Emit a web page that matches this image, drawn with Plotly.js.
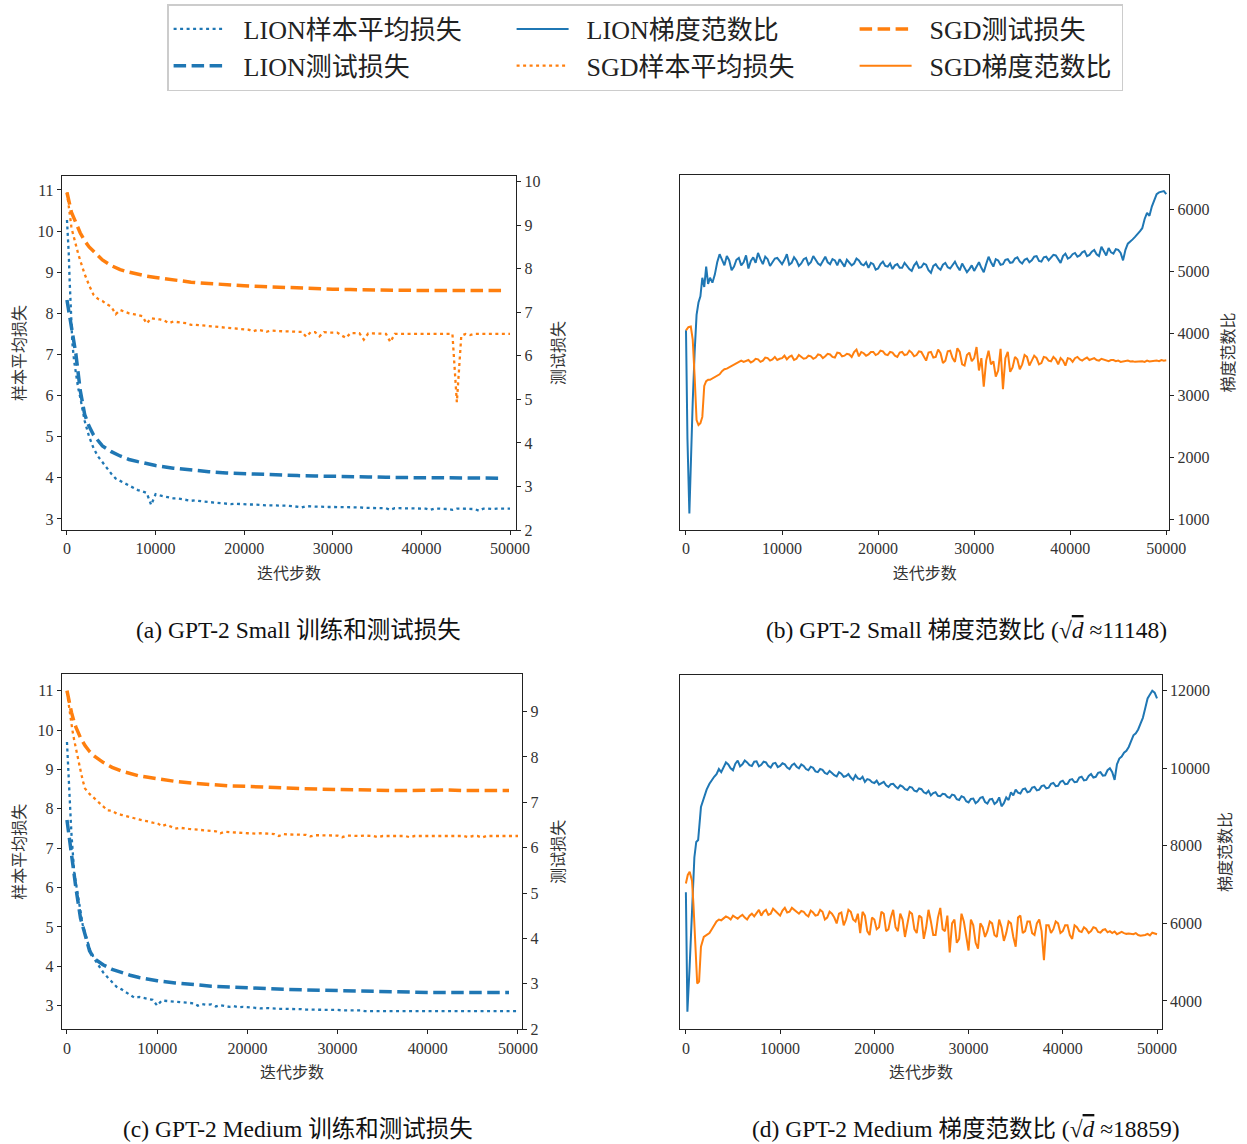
<!DOCTYPE html>
<html>
<head>
<meta charset="utf-8">
<script src="https://cdn.plot.ly/plotly-3.0.1.min.js"></script>
<style>html,body{margin:0;padding:0;background:#fff;}#chart{width:1247px;height:1144px;}</style>
</head>
<body>
<div id="chart"></div>
<script>
// ---------- data ----------
const STEPS_REG = [2500,3000,3500,4000,4500,5000,5500,6000,6500,7000,
7500,8000,8500,9000,9500,10000,10500,11000,11500,12000,
12500,13000,13500,14000,14500,15000,15500,16000,16500,17000,
17500,18000,18500,19000,19500,20000,20500,21000,21500,22000,
22500,23000,23500,24000,24500,25000,25500,26000,26500,27000,
27500,28000,28500,29000,29500,30000,30500,31000,31500,32000,
32500,33000,33500,34000,34500,35000,35500,36000,36500,37000,
37500,38000,38500,39000,39500,40000,40500,41000,41500,42000,
42500,43000,43500,44000,44500,45000,45500,46000,46500,47000,
47500,48000,48500,49000,49500,50000];

const STEPS_250 = [2500,2750,3000,3250,3500,3750,4000,4250,4500,4750,5000,5250,5500,5750,6000,6250,6500,6750,7000,7250,
7500,7750,8000,8250,8500,8750,9000,9250,9500,9750,10000,10250,10500,10750,11000,11250,11500,11750,12000,12250,
12500,12750,13000,13250,13500,13750,14000,14250,14500,14750,15000,15250,15500,15750,16000,16250,16500,16750,17000,17250,
17500,17750,18000,18250,18500,18750,19000,19250,19500,19750,20000,20250,20500,20750,21000,21250,21500,21750,22000,22250,
22500,22750,23000,23250,23500,23750,24000,24250,24500,24750,25000,25250,25500,25750,26000,26250,26500,26750,27000,27250,
27500,27750,28000,28250,28500,28750,29000,29250,29500,29750,30000,30250,30500,30750,31000,31250,31500,31750,32000,32250,
32500,32750,33000,33250,33500,33750,34000,34250,34500,34750,35000,35250,35500,35750,36000,36250,36500,36750,37000,37250,
37500,37750,38000,38250,38500,38750,39000,39250,39500,39750,40000,40250,40500,40750,41000,41250,41500,41750,42000,42250,
42500,42750,43000,43250,43500,43750,44000,44250,44500,44750,45000,45250,45500,45750,46000,46250,46500,46750,47000,47250,
47500,47750,48000,48250,48500,48750,49000,49250,49500,49750,50000];

const SAMPLE_EARLY = [0,100,200,300,400,500,600,800,1000,1250,1500,1750,2000];
const TEST_STEPS = [0,250,500,750,1000,1500,2000,2500,3000,4000,5000,6000,7000,8000,9000,10000,
12000,14000,16000,18000,20000,22000,24000,26000,28000,30000,32000,34000,36000,38000,40000,42000,44000,46000,48000,49000];

// (a) GPT-2 Small losses
const SGD_A_SAMPLE = [10.94,10.75,10.55,10.38,10.22,10.1,10.0,9.82,9.65,9.46,9.28,9.1,8.95,
8.68,8.45,8.35,8.3,8.22,8.16,7.98,8.08,8.04,8.0,
7.98,7.95,7.93,7.75,7.88,7.86,7.85,7.82,7.76,7.8,
7.78,7.77,7.76,7.72,7.72,7.71,7.7,7.69,7.68,7.68,
7.67,7.65,7.64,7.63,7.62,7.62,7.6,7.56,7.6,7.58,
7.55,7.58,7.57,7.57,7.56,7.56,7.55,7.55,7.55,7.43,
7.54,7.54,7.44,7.54,7.53,7.53,7.53,7.46,7.4,7.52,
7.52,7.52,7.36,7.51,7.51,7.51,7.51,7.5,7.3,7.5,
7.5,7.5,7.5,7.5,7.5,7.5,7.5,7.5,7.5,7.5,
7.5,7.5,7.5,5.84,7.45,7.5,7.47,7.5,7.5,7.5,
7.5,7.5,7.5,7.5,7.5,7.5];
const LION_A_SAMPLE = [10.27,9.9,9.45,8.8,8.25,7.75,7.3,6.85,6.55,6.2,5.95,5.65,5.38,
5.0,4.72,4.52,4.38,4.22,4.1,3.98,3.92,3.86,3.8,
3.75,3.7,3.67,3.63,3.34,3.6,3.57,3.55,3.52,3.5,
3.5,3.48,3.47,3.44,3.45,3.43,3.42,3.41,3.4,3.4,
3.39,3.38,3.36,3.37,3.36,3.36,3.35,3.35,3.34,3.34,
3.33,3.33,3.33,3.32,3.32,3.32,3.31,3.3,3.28,3.31,
3.3,3.3,3.3,3.29,3.29,3.29,3.29,3.28,3.28,3.28,
3.28,3.28,3.27,3.27,3.27,3.27,3.27,3.26,3.22,3.26,
3.26,3.26,3.26,3.25,3.25,3.25,3.25,3.22,3.25,3.25,
3.25,3.24,3.22,3.25,3.25,3.25,3.25,3.24,3.2,3.25,
3.25,3.24,3.25,3.25,3.25,3.25];
const SGD_A_TEST = [9.75,9.5,9.3,9.18,9.05,8.82,8.64,8.5,8.4,8.2,8.07,7.98,7.92,7.87,7.83,7.8,
7.74,7.69,7.66,7.63,7.61,7.59,7.57,7.55,7.54,7.53,7.52,7.51,7.51,7.5,7.5,7.5,7.5,7.49,7.5,7.5];
const LION_A_TEST = [7.28,6.95,6.6,6.33,6.05,5.2,4.65,4.38,4.18,3.93,3.8,3.7,3.62,3.57,3.52,3.48,
3.42,3.37,3.34,3.31,3.29,3.28,3.26,3.25,3.24,3.24,3.23,3.22,3.21,3.2,3.2,3.2,3.2,3.19,3.19,3.19];

// (c) GPT-2 Medium losses
const SGD_C_SAMPLE = [10.97,10.8,10.6,10.4,10.25,10.1,10.0,9.75,9.5,9.24,8.98,8.72,8.52,
8.38,8.27,8.17,8.05,7.96,7.95,7.88,7.85,7.82,7.78,
7.76,7.73,7.7,7.68,7.65,7.64,7.56,7.6,7.55,7.5,
7.52,7.5,7.49,7.48,7.47,7.46,7.45,7.44,7.43,7.38,
7.42,7.41,7.4,7.39,7.38,7.38,7.38,7.37,7.38,7.37,
7.36,7.36,7.31,7.36,7.35,7.35,7.34,7.34,7.34,7.3,
7.33,7.33,7.33,7.33,7.32,7.32,7.28,7.32,7.32,7.31,
7.31,7.32,7.32,7.31,7.28,7.31,7.31,7.31,7.31,7.31,
7.31,7.28,7.31,7.31,7.31,7.31,7.31,7.31,7.31,7.31,
7.31,7.31,7.31,7.31,7.28,7.31,7.31,7.27,7.31,7.31,
7.31,7.31,7.31,7.31,7.3,7.31];
const LION_C_SAMPLE = [9.7,9.3,8.85,8.3,7.8,7.35,6.95,6.4,6.1,5.77,5.4,5.05,4.85,
4.45,4.2,4.02,3.85,3.72,3.6,3.48,3.42,3.35,3.28,
3.2,3.22,3.19,3.17,3.15,3.0,3.13,3.12,3.1,3.09,
3.08,3.07,3.07,3.06,3.0,3.04,3.02,3.03,2.98,3.01,
2.99,2.97,2.99,2.96,2.97,2.96,2.95,2.95,2.93,2.94,
2.93,2.93,2.92,2.92,2.92,2.91,2.91,2.91,2.9,2.9,
2.9,2.9,2.89,2.89,2.89,2.89,2.88,2.88,2.88,2.88,
2.88,2.86,2.86,2.87,2.87,2.87,2.87,2.87,2.87,2.87,
2.87,2.87,2.87,2.87,2.87,2.87,2.87,2.87,2.87,2.87,
2.87,2.86,2.87,2.87,2.87,2.87,2.87,2.87,2.86,2.87,
2.87,2.87,2.87,2.87,2.87,2.86];
const SGD_C_TEST = [9.46,9.2,8.98,8.8,8.65,8.42,8.25,8.12,8.02,7.88,7.77,7.69,7.63,7.58,7.55,7.52,
7.46,7.42,7.39,7.36,7.35,7.33,7.32,7.3,7.29,7.28,7.28,7.27,7.26,7.26,7.27,7.27,7.26,7.26,7.26,7.26];
const LION_C_TEST = [6.61,6.2,5.8,5.45,5.1,4.45,4.05,3.73,3.56,3.42,3.32,3.25,3.19,3.14,3.1,3.07,
3.02,2.98,2.95,2.93,2.91,2.89,2.88,2.87,2.86,2.85,2.84,2.83,2.82,2.82,2.81,2.81,2.81,2.81,2.81,2.81];

// (b) GPT-2 Small gradient norm ratio
const LION_B_EARLY = [0,150,350,500,700,900,1100,1300,1500,1700,1900,2100,2300];
const LION_B_GRAD = [4050,2300,1090,2000,2900,3700,4300,4500,4600,4900,4750,5080,4800,
4900,4820,4950,5150,5280,5180,5100,5250,5180,5020,5080,5190,5220,5100,5150,5260,5050,5170,5230,5140,
5300,5200,5120,5240,5200,5090,5150,5210,5220,5160,5120,5190,5280,5110,5140,5230,5180,5090,5130,5200,
5220,5110,5150,5250,5190,5130,5100,5180,5240,5150,5120,5200,5180,5100,5200,5140,5080,5190,5150,5100,
5130,5210,5180,5120,5100,5150,5060,5140,5120,5030,5050,5120,5160,5090,5080,5130,5040,5100,5120,5060,
5060,5140,5090,5040,5010,5100,5150,5060,5070,5130,5110,5020,4980,5090,5120,5060,5030,5110,5140,5070,
5050,5110,5160,5080,5020,5130,5070,4990,5040,5100,5010,5090,5150,5060,4990,5120,5240,5150,5080,5200,
5180,5110,5120,5190,5200,5140,5150,5210,5230,5160,5130,5190,5210,5150,5180,5240,5250,5170,5160,5230,
5240,5180,5220,5270,5260,5190,5140,5250,5290,5210,5230,5280,5300,5240,5260,5310,5330,5250,5270,5320,
5350,5280,5250,5400,5330,5260,5380,5310,5290,5360,5350,5300,5180,5350,5450,5480,5520,5560,5600,5650,
5700,5850,5950,5900,6050,6150,6250,6280,6290,6300,6250];
const SGD_B_EARLY = [0,250,500,700,900,1100,1300,1500,1700,1900,2100,2300];
const SGD_B_GRAD = [4050,4100,4110,3900,3300,2600,2520,2550,2650,3150,3230,3250,
3250,3270,3300,3320,3340,3390,3420,3430,3450,3480,3500,3520,3530,3560,3540,3550,3570,3530,3550,3590,
3580,3540,3560,3610,3600,3560,3580,3620,3570,3590,3600,3640,3580,3620,3640,3570,3590,3650,3620,3590,
3600,3640,3630,3590,3610,3660,3650,3600,3630,3670,3660,3620,3610,3690,3680,3630,3640,3670,3660,3620,
3700,3740,3630,3700,3680,3640,3660,3700,3700,3650,3670,3720,3710,3660,3650,3700,3690,3640,3620,3690,
3700,3650,3660,3720,3690,3630,3650,3710,3700,3620,3560,3690,3700,3610,3620,3740,3680,3520,3560,3710,
3720,3600,3540,3760,3700,3500,3480,3650,3690,3550,3600,3780,3400,3600,3140,3560,3720,3500,3550,3300,
3400,3750,3100,3600,3700,3380,3450,3620,3580,3420,3500,3650,3620,3480,3560,3640,3600,3500,3520,3620,
3610,3560,3550,3620,3580,3500,3600,3560,3480,3600,3590,3540,3600,3620,3580,3560,3590,3610,3570,3590,
3600,3570,3560,3590,3580,3560,3550,3570,3570,3550,3560,3540,3550,3560,3560,3545,3550,3540,3545,3550,
3550,3540,3560,3545,3550,3555,3560,3550,3570,3560,3565];

// (d) GPT-2 Medium gradient norm ratio
const LION_D_EARLY = [0,80,160,400,650,900,1100,1300,1600,1900,2200];
const LION_D_GRAD = [6800,4800,3720,4900,6500,7700,8100,8150,9000,9250,9450,
9600,9700,9780,9850,9980,9900,10050,10150,10100,10000,9950,10120,10200,10050,10100,10200,10150,10080,10060,10170,
10180,10050,10090,10170,10150,10060,10020,10120,10140,10030,10060,10130,10100,10020,9980,10080,10120,10040,10000,10100,
10060,9980,9950,10040,10010,9920,9900,9980,9960,9880,9850,9930,9880,9820,9790,9900,9860,9780,9800,9850,
9760,9700,9820,9740,9720,9780,9650,9720,9700,9640,9620,9680,9580,9620,9650,9560,9520,9590,9600,9530,
9480,9560,9530,9460,9440,9520,9500,9420,9400,9480,9460,9380,9350,9420,9300,9360,9380,9290,9280,9340,
9330,9260,9240,9320,9300,9200,9180,9280,9250,9150,9120,9210,9220,9100,9150,9240,9260,9130,9090,9200,
9210,9080,9130,9250,9020,9100,9250,9180,9380,9300,9450,9370,9350,9460,9480,9380,9400,9500,9520,9430,
9450,9540,9560,9480,9500,9600,9620,9540,9550,9650,9680,9590,9600,9700,9720,9640,9650,9760,9780,9690,
9700,9800,9850,9760,9780,9880,9900,9810,9820,9950,10000,9900,9700,10100,10250,10300,10400,10450,10550,10700,
10850,10900,11000,11150,11300,11550,11800,11900,12000,11950,11800];
const SGD_D_EARLY = [0,200,400,650,800,1000,1200,1400,1600,1900,2200];
const SGD_D_GRAD = [7030,7250,7330,7100,6500,5400,4450,4500,5400,5650,5700,
5750,5850,5950,6050,6100,6080,6130,6180,6150,6100,6200,6150,6120,6180,6220,6150,6100,6200,6250,6180,
6280,6350,6200,6300,6350,6220,6250,6380,6320,6260,6200,6330,6400,6280,6300,6400,6350,6280,6250,6320,
6300,6220,6180,6330,6280,6200,6220,6350,6300,6100,6150,6300,6250,6150,6000,6250,6280,5950,6100,6350,
6300,6100,6050,6250,5750,6300,6200,5800,5700,6150,6100,5850,5900,6300,6250,5800,5850,6150,6350,5900,
5800,6250,6100,5650,5950,6300,6250,5850,5750,6200,6150,5600,5900,6350,6050,5700,5700,6150,6400,5850,
5800,6200,5250,6000,6100,5500,5600,6250,6050,5700,5300,6100,5950,5500,5350,6000,5900,5650,5800,6050,
6000,5700,5650,6100,5900,5550,5750,6050,6000,5650,5400,6150,6200,5750,5800,6050,6050,5750,5700,6000,
6100,5800,5050,5950,5950,5750,5850,6050,6000,5750,5800,5950,5950,5700,5600,5950,5900,5800,5780,5900,
5850,5750,5800,5900,5880,5780,5760,5830,5850,5770,5800,5750,5790,5720,5760,5780,5750,5730,5740,5720,
5720,5750,5700,5680,5690,5700,5730,5690,5760,5740,5720];

const X_TICKS = [0,10000,20000,30000,40000,50000];
const NAMES = {
  lionSample: 'LION样本平均损失', lionTest: 'LION测试损失', lionGrad: 'LION梯度范数比',
  sgdSample: 'SGD样本平均损失', sgdTest: 'SGD测试损失', sgdGrad: 'SGD梯度范数比'
};
const CAPTIONS = [
  '(a) GPT-2 Small 训练和测试损失',
  '(b) GPT-2 Small 梯度范数比 (√<span style="text-decoration:overline"><i>d</i></span> ≈11148)',
  '(c) GPT-2 Medium 训练和测试损失',
  '(d) GPT-2 Medium 梯度范数比 (√<span style="text-decoration:overline"><i>d</i></span> ≈18859)'
];

// ---------- styles ----------
const BLUE = '#1f77b4', ORANGE = '#ff7f0e';
const DOT = '3px,3.5px', DASH = '12.5px,5.5px';
const SERIF = 'Liberation Serif, Noto Sans CJK SC, serif';
const CJK = 'Noto Sans CJK SC, sans-serif';
const GAP = '\u2002'; // visual gap between legend symbol and label

const sampleX = SAMPLE_EARLY.concat(STEPS_REG);

function line(x, y, xa, ya, color, dash, width, name, legend, rank, lw) {
  const t = {type: 'scatter', mode: 'lines', x: x, y: y, xaxis: xa, yaxis: ya,
    name: legend ? GAP + name : name, showlegend: legend, legendrank: rank,
    line: {color: color, dash: dash, width: width}, hoverinfo: 'skip'};
  if (lw) t.legendwidth = lw;
  return t;
}

const traces = [
  // (a)
  line(sampleX, LION_A_SAMPLE, 'x', 'y', BLUE, DOT, 2.3, NAMES.lionSample, true, 1),
  line(sampleX, SGD_A_SAMPLE, 'x', 'y', ORANGE, DOT, 2.3, NAMES.sgdSample, true, 5),
  line(TEST_STEPS, LION_A_TEST, 'x', 'y2', BLUE, DASH, 3.5, NAMES.lionTest, true, 4),
  line(TEST_STEPS, SGD_A_TEST, 'x', 'y2', ORANGE, DASH, 3.5, NAMES.sgdTest, true, 3, 200),
  // (b)
  line(LION_B_EARLY.concat(STEPS_250), LION_B_GRAD, 'x2', 'y3', BLUE, 'solid', 2, NAMES.lionGrad, true, 2),
  line(SGD_B_EARLY.concat(STEPS_250), SGD_B_GRAD, 'x2', 'y3', ORANGE, 'solid', 2, NAMES.sgdGrad, true, 6, 200),
  // (c)
  line(sampleX, LION_C_SAMPLE, 'x3', 'y4', BLUE, DOT, 2.3, NAMES.lionSample, false, 10),
  line(sampleX, SGD_C_SAMPLE, 'x3', 'y4', ORANGE, DOT, 2.3, NAMES.sgdSample, false, 10),
  line(TEST_STEPS, LION_C_TEST, 'x3', 'y5', BLUE, DASH, 3.5, NAMES.lionTest, false, 10),
  line(TEST_STEPS, SGD_C_TEST, 'x3', 'y5', ORANGE, DASH, 3.5, NAMES.sgdTest, false, 10),
  // (d)
  line(LION_D_EARLY.concat(STEPS_250), LION_D_GRAD, 'x4', 'y6', BLUE, 'solid', 2, NAMES.lionGrad, false, 10),
  line(SGD_D_EARLY.concat(STEPS_250), SGD_D_GRAD, 'x4', 'y6', ORANGE, 'solid', 2, NAMES.sgdGrad, false, 10)
];

const tickFont = {family: SERIF, size: 16, color: '#333'};
const titleFont = {family: CJK, size: 16, color: '#333'};

function xAxis(domain, range, anchor) {
  return {domain: domain, range: range, anchor: anchor, tickvals: X_TICKS, tickformat: 'd',
    ticks: 'outside', ticklen: 4, tickwidth: 1, tickcolor: '#222',
    showline: true, mirror: true, linecolor: '#222', linewidth: 1.2,
    showgrid: false, zeroline: false, automargin: false, tickfont: tickFont,
    title: {text: '迭代步数', font: titleFont, standoff: 11}};
}
function yAxis(domain, range, anchor, side, tickvals, title, standoff, extra) {
  return Object.assign({domain: domain, range: range, anchor: anchor, side: side,
    tickvals: tickvals, tickformat: 'd', ticks: 'outside', ticklen: 4, tickwidth: 1, tickcolor: '#222',
    showline: true, mirror: true, linecolor: '#222', linewidth: 1.2,
    showgrid: false, zeroline: false, automargin: false, tickfont: tickFont,
    title: {text: title, font: titleFont, standoff: standoff}}, extra || {});
}

const layout = {
  width: 1247, height: 1144,
  margin: {l: 0, r: 0, t: 0, b: 0},
  paper_bgcolor: '#fff', plot_bgcolor: '#fff',
  font: {family: SERIF, color: '#222'},
  xaxis: xAxis([0.0497, 0.4138], [-564, 50677], 'y'),
  yaxis: yAxis([0.5367, 0.8462], [2.73, 11.34], 'x', 'left', [3,4,5,6,7,8,9,10,11], '样本平均损失', 8),
  yaxis2: yAxis([0.5367, 0.8462], [2, 10.13], 'x', 'right', [2,3,4,5,6,7,8,9,10], '测试损失', 13, {overlaying: 'y', mirror: false}),
  xaxis2: xAxis([0.5457, 0.9375], [-574, 50292], 'y3'),
  yaxis3: yAxis([0.5367, 0.8470], [822, 6560], 'x2', 'right', [1000,2000,3000,4000,5000,6000], '梯度范数比', 14),
  xaxis3: xAxis([0.0497, 0.4186], [-554, 50443], 'y4'),
  yaxis4: yAxis([0.1003, 0.4106], [2.40, 11.42], 'x3', 'left', [3,4,5,6,7,8,9,10,11], '样本平均损失', 8),
  yaxis5: yAxis([0.1003, 0.4106], [2, 9.82], 'x3', 'right', [2,3,4,5,6,7,8,9], '测试损失', 15, {overlaying: 'y4', mirror: false}),
  xaxis4: xAxis([0.5457, 0.9316], [-573, 50499], 'y6'),
  yaxis6: yAxis([0.1003, 0.4102], [3270, 12412], 'x4', 'right', [4000,6000,8000,10000,12000], '梯度范数比', 10),
  showlegend: true,
  legend: {orientation: 'h', x: 0.134, y: 0.9965, xanchor: 'left', yanchor: 'top',
    entrywidth: 276, entrywidthmode: 'pixels', itemwidth: 52,
    font: {family: SERIF, size: 26, color: '#222'},
    bgcolor: '#fff', bordercolor: '#cccccc', borderwidth: 1.5, traceorder: 'normal'},
  annotations: [
    {text: CAPTIONS[0], x: 0.239, y: 0.4493},
    {text: CAPTIONS[1], x: 0.7747, y: 0.4493},
    {text: CAPTIONS[2], x: 0.239, y: 0.0131},
    {text: CAPTIONS[3], x: 0.7747, y: 0.0131}
  ].map(a => Object.assign(a, {xref: 'paper', yref: 'paper', showarrow: false,
    xanchor: 'center', yanchor: 'middle', font: {family: SERIF, size: 23.5, color: '#111'}}))
};

Plotly.newPlot('chart', traces, layout, {displayModeBar: false, staticPlot: true});
</script>
</body>
</html>
